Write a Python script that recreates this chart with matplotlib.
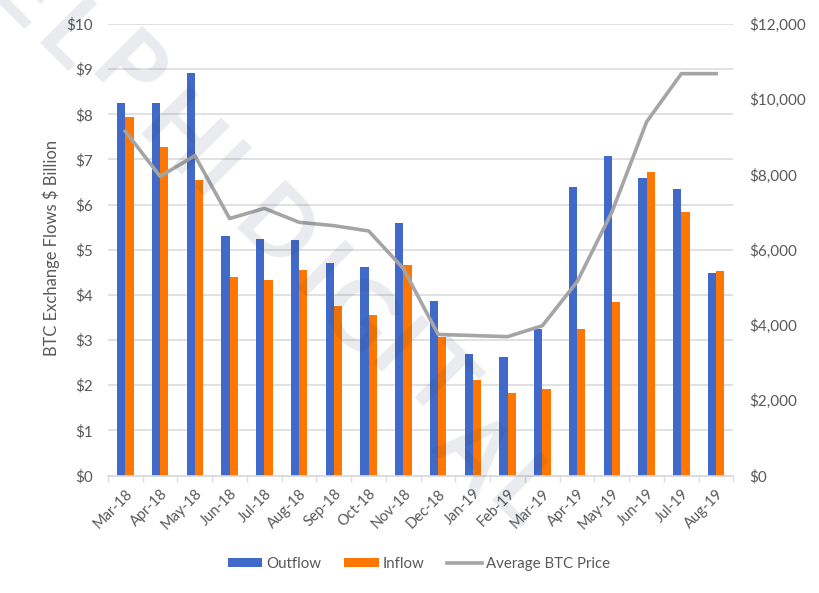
import matplotlib
matplotlib.use('Agg')
import matplotlib.pyplot as plt
import matplotlib.transforms as mtrans
import numpy as np

plt.rcParams['font.family'] = ['Lato', 'DejaVu Sans']

# --- Data ---
months = ['Mar-18', 'Apr-18', 'May-18', 'Jun-18', 'Jul-18', 'Aug-18', 'Sep-18', 'Oct-18', 'Nov-18',
          'Dec-18', 'Jan-19', 'Feb-19', 'Mar-19', 'Apr-19', 'May-19', 'Jun-19', 'Jul-19', 'Aug-19']
outflow = [8.25, 8.25, 8.92, 5.30, 5.24, 5.21, 4.70, 4.62, 5.60,
           3.87, 2.70, 2.63, 3.25, 6.38, 7.07, 6.60, 6.35, 4.48]
inflow = [7.93, 7.28, 6.55, 4.39, 4.33, 4.56, 3.76, 3.55, 4.66,
          3.07, 2.12, 1.83, 1.92, 3.24, 3.84, 6.72, 5.83, 4.53]
btc_price = [9150, 7950, 8500, 6830, 7100, 6730, 6640, 6500, 5500,
             3750, 3720, 3690, 3980, 5150, 7000, 9400, 10680, 10680]

TEXT = '#595959'
GRID = '#dcdcdc'

fig = plt.figure(figsize=(8.2, 5.93), dpi=100)
ax = fig.add_axes([108 / 820, 1 - 475.5 / 593, 625.5 / 820, 451.5 / 593])
ax2 = ax.twinx()

x = np.arange(len(months))
width = 0.238

ax.bar(x - width / 2, outflow, width, color='#4169c9', label='Outflow', zorder=3)
ax.bar(x + width / 2, inflow, width, color='#ff7700', label='Inflow', zorder=3)
ax2.plot(x, btc_price, color='#a5a5a5', linewidth=2.6, label='Average BTC Price', zorder=4)

ax.set_xlim(-0.5, len(months) - 0.5)
ax.set_ylim(0, 10)
ax2.set_ylim(0, 12000)

ax.set_yticks(range(0, 11))
ax.set_yticklabels([f'${v}' for v in range(0, 11)], fontsize=11, color=TEXT)
ax2.set_yticks(range(0, 12001, 2000))
ax2.set_yticklabels([f'${v:,}' for v in range(0, 12001, 2000)], fontsize=11, color=TEXT)

ax.set_xticks(x)
ax.set_xticklabels(months, fontsize=10.5, color=TEXT, rotation=45, ha='right', rotation_mode='anchor')
# nudge the rotated labels left a little
shift = mtrans.ScaledTranslation(-3 / 100, 0, fig.dpi_scale_trans)
for lab in ax.get_xticklabels():
    lab.set_transform(lab.get_transform() + shift)
ax.set_xticks(np.arange(-0.5, len(months)), minor=True)
ax.tick_params(axis='x', which='major', length=0, pad=8)
ax.tick_params(axis='x', which='minor', length=4, width=1, color=GRID)
ax.tick_params(axis='y', length=0, pad=11)
ax2.tick_params(axis='y', length=0, pad=11)

ax.yaxis.grid(True, color=GRID, linewidth=1.2, zorder=0)
ax.set_axisbelow(True)
for a in (ax, ax2):
    for side in ('top', 'left', 'right'):
        a.spines[side].set_visible(False)
    a.spines['bottom'].set_color(GRID)
    a.spines['bottom'].set_linewidth(1.2)

fig.text(51 / 820, 1 - 248 / 593, 'BTC Exchange Flows $ Billion', rotation=90,
         ha='center', va='center', fontsize=11.9, color=TEXT)

handles = ax.get_legend_handles_labels()
handles2 = ax2.get_legend_handles_labels()
fig.legend(handles[0] + handles2[0], handles[1] + handles2[1], ncol=3, frameon=False,
           loc='center', bbox_to_anchor=(419 / 820, 1 - 564 / 593), fontsize=10.8,
           labelcolor=TEXT, handlelength=2.3, handleheight=0.5, handletextpad=0.3, columnspacing=1.5)

# watermark, placed letter by letter across the plot
wm_letters = ['E', 'L', 'P', 'H', 'I', 'D', 'I', 'G', 'I', 'T', 'A', 'L']
wm_px = [(24, -2), (68, 40), (125, 75), (177, 140), (215, 177), (273, 233),
         (317, 278), (355, 318), (393, 353), (437, 383), (472, 453), (520, 497)]
for ch, (px, py) in zip(wm_letters, wm_px):
    fig.text(px / 820, 1 - py / 593, ch, rotation=-45, rotation_mode='anchor',
             ha='center', va='center', fontsize=68, fontweight='bold',
             color='#2b3a55', alpha=0.10, zorder=10)

plt.savefig('out.png', dpi=100)
